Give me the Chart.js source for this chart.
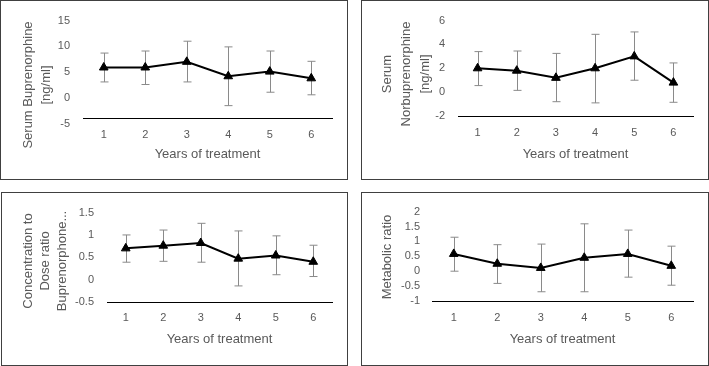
<!DOCTYPE html>
<html>
<head>
<meta charset="utf-8">
<script src="https://cdn.jsdelivr.net/npm/chart.js@4"></script>
<style>
    body { margin: 0; background: #fff; width: 709px; height: 366px; position: relative; overflow: hidden; }
    .panel { position: absolute; border: 1px solid #404040; background: #fff; }
    .panel canvas { display: block; }
</style>
</head>
<body>
<div class="panel" style="left:0px;top:0px;width:346px;height:178px;"><canvas id="bupChart" width="346" height="178"></canvas></div>
<div class="panel" style="left:361px;top:0px;width:346px;height:178px;"><canvas id="norChart" width="346" height="178"></canvas></div>
<div class="panel" style="left:1px;top:192px;width:345px;height:172px;"><canvas id="cdrChart" width="345" height="172"></canvas></div>
<div class="panel" style="left:361px;top:192px;width:346px;height:172px;"><canvas id="metChart" width="346" height="172"></canvas></div>

<script>
// ================= DATA =================

const years = ["1", "2", "3", "4", "5", "6"];

// serum buprenorphine [ng/ml]
const bupMean  = [5.9, 5.9, 7.0, 4.2, 5.1, 3.8];
const bupUpper = [8.7, 9.1, 11.0, 9.9, 9.1, 7.1];
const bupLower = [3.1, 2.6, 3.1, -1.5, 1.1, 0.6];
const bupTicks = [-5, 0, 5, 10, 15];

// serum norbuprenorphine [ng/ml]
const norMean  = [2.0, 1.8, 1.2, 2.0, 3.0, 0.8];
const norUpper = [3.4, 3.45, 3.25, 4.85, 5.05, 2.45];
const norLower = [0.55, 0.15, -0.8, -0.9, 1.0, -0.85];
const norTicks = [-2, 0, 2, 4, 6];

// concentration to dose ratio
const cdrMean  = [0.70, 0.76, 0.82, 0.47, 0.54, 0.40];
const cdrUpper = [1.0, 1.11, 1.26, 1.09, 0.98, 0.77];
const cdrLower = [0.39, 0.41, 0.39, -0.14, 0.11, 0.07];
const cdrTicks = [-0.5, 0, 0.5, 1, 1.5];

// metabolic ratio
const metMean  = [0.58, 0.25, 0.11, 0.45, 0.58, 0.18];
const metUpper = [1.14, 0.89, 0.91, 1.59, 1.38, 0.84];
const metLower = [0.0, -0.41, -0.69, -0.69, -0.2, -0.47];
const metTicks = [-1, -0.5, 0, 0.5, 1, 1.5, 2];

const xTitle = "Years of treatment";
const textColor = "#595959";
const fontFamily = "'Liberation Sans', Arial, sans-serif";

// ================= PLUGINS =================

// error bars, drawn under the line and markers
const errorBars = {
    id: "errorBars",
    beforeDatasetsDraw(chart) {
        const ds = chart.data.datasets[0];
        const ctx = chart.ctx;
        const x = chart.scales.x;
        const y = chart.scales.y;
        ctx.save();
        ctx.strokeStyle = "#8a8a8a";
        ctx.lineWidth = 1;
        ds.data.forEach((v, i) => {
            const px = Math.round(x.getPixelForValue(i)) + 0.5;
            const top = y.getPixelForValue(ds.upper[i]);
            const bot = y.getPixelForValue(ds.lower[i]);
            ctx.beginPath();
            ctx.moveTo(px, top); ctx.lineTo(px, bot);
            ctx.moveTo(px - 4, top); ctx.lineTo(px + 4, top);
            ctx.moveTo(px - 4, bot); ctx.lineTo(px + 4, bot);
            ctx.stroke();
        });
        ctx.restore();
    }
};

// y axis title, placed like the original (rotated, several lines)
const yTitle = {
    id: "yTitle",
    afterDraw(chart, args, opts) {
        const ctx = chart.ctx;
        ctx.save();
        ctx.fillStyle = textColor;
        ctx.font = "13px " + fontFamily;
        ctx.textAlign = "center";
        ctx.textBaseline = "middle";
        opts.lines.forEach((line, i) => {
            ctx.save();
            ctx.translate(opts.x[i], opts.y);
            ctx.rotate(-Math.PI / 2);
            ctx.fillText(line, 0, 0);
            ctx.restore();
        });
        ctx.restore();
    }
};

// ================= CHART INIT =================

function makePanel(id, mean, upper, lower, tickVals, yMin, yMax, lay) {
    return new Chart(document.getElementById(id), {
        type: "line",
        data: {
            labels: years,
            datasets: [{
                data: mean,
                upper: upper,
                lower: lower,
                borderColor: "#000",
                borderWidth: 2,
                tension: 0,
                pointStyle: "triangle",
                pointRadius: 5,
                pointBackgroundColor: "#000",
                pointBorderColor: "#000",
                pointBorderWidth: 1
            }]
        },
        options: {
            responsive: false,
            maintainAspectRatio: false,
            animation: false,
            devicePixelRatio: 1,
            layout: { padding: { top: lay.top, right: lay.right, bottom: 0, left: 0 } },
            plugins: {
                legend: { display: false },
                tooltip: { enabled: false },
                yTitle: { lines: lay.yLines, x: lay.yX, y: lay.yY }
            },
            scales: {
                x: {
                    offset: true,
                    grid: { display: false, drawTicks: false },
                    border: { display: true, color: "#000", width: 1 },
                    ticks: {
                        color: textColor,
                        padding: lay.xPad,
                        font: { family: fontFamily, size: 11 }
                    },
                    title: {
                        display: true,
                        text: xTitle,
                        color: textColor,
                        font: { family: fontFamily, size: 13 },
                        padding: { top: 0, bottom: lay.titlePad }
                    },
                    afterFit: (s) => { s.height = lay.xHeight; }
                },
                y: {
                    min: yMin,
                    max: yMax,
                    grid: { display: false, drawTicks: false },
                    border: { display: false },
                    ticks: {
                        autoSkip: false,
                        color: textColor,
                        padding: lay.yPad,
                        font: { family: fontFamily, size: 11 },
                        callback: (v) => String(v)
                    },
                    afterBuildTicks: (s) => { s.ticks = tickVals.map(v => ({ value: v })); },
                    afterFit: (s) => { s.width = lay.yWidth; }
                }
            }
        },
        plugins: [errorBars, yTitle]
    });
}

// the horizontal axis of the first panel crosses a little above -5
makePanel("bupChart", bupMean, bupUpper, bupLower, bupTicks, -3.9, 15, {
    top: 15, right: 15, yWidth: 82, xHeight: 61, yPad: 13, xPad: 10, titlePad: 17,
    yLines: ["Serum Buprenorphine", "[ng/ml]"], yX: [27, 45], yY: 84
});

makePanel("norChart", norMean, norUpper, norLower, norTicks, -2, 6, {
    top: 15, right: 15, yWidth: 96, xHeight: 63, yPad: 13, xPad: 10, titlePad: 17,
    yLines: ["Serum", "Norbuprenorphine", "[ng/ml]"], yX: [25, 44, 63], yY: 73
});

makePanel("cdrChart", cdrMean, cdrUpper, cdrLower, cdrTicks, -0.5, 1.5, {
    top: 16, right: 15, yWidth: 105, xHeight: 63, yPad: 13, xPad: 9, titlePad: 18,
    yLines: ["Concentration to", "Dose ratio", "Buprenorphone..."], yX: [26, 43, 60], yY: 68
});

makePanel("metChart", metMean, metUpper, metLower, metTicks, -1, 2, {
    top: 15, right: 15, yWidth: 70, xHeight: 64, yPad: 12, xPad: 10, titlePad: 18,
    yLines: ["Metabolic ratio"], yX: [25], yY: 64
});
</script>
</body>
</html>
